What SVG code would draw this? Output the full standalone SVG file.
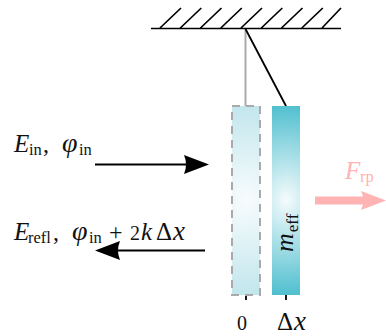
<svg xmlns="http://www.w3.org/2000/svg" width="386" height="336" viewBox="0 0 386 336">
<style>
text{font-family:"Liberation Serif",serif;fill:#111}
.m{font-size:25px;font-style:italic}
.p{font-size:28px;font-style:italic}
.s{font-size:16.500px}
.n{font-size:24px}
.d{font-size:25px}
.r{fill:#ffb3b3}
.h{stroke:#000;stroke-width:1.7;fill:none}
</style>
<defs>
<radialGradient id="g1" gradientUnits="userSpaceOnUse" cx="0" cy="0" r="1" gradientTransform="translate(246 200) scale(75 100)">
<stop offset="0" stop-color="#f8fcfd"/><stop offset="1" stop-color="#bfe5ec"/>
</radialGradient>
<radialGradient id="g2" gradientUnits="userSpaceOnUse" cx="0" cy="0" r="1" gradientTransform="translate(286 200) scale(75 100)">
<stop offset="0" stop-color="#f5fbfc"/><stop offset="1" stop-color="#48bccd"/>
</radialGradient>
</defs>
<g id="connectors">
<path class="h" d="M151 28.500H341M160 28L181 8M180.300 28L201.300 8M200.500 28L221.500 8M220.800 28L241.800 8M241 28L262 8M261.300 28L282.300 8M281.500 28L302.500 8M301.800 28L322.800 8M322 28L341 8"/>
<path d="M245.500 29V106" stroke="#aaa" stroke-width="2" fill="none"/>
<path d="M245.500 29L286 106" stroke="#000" stroke-width="1.800" fill="none"/>
<path d="M95 164.500H190" stroke="#000" stroke-width="1.800"/>
<path d="M209 164.500L184 155Q188 164.500 184 174Z" fill="#000"/>
<path d="M205 250.500H112" stroke="#000" stroke-width="1.800"/>
<path d="M95 250.500L120 241Q116 250.500 120 260Z" fill="#000"/>
<path d="M315 200.500H372" stroke="#ffb3b3" stroke-width="8"/>
<path d="M386 200.500L361 191Q366 200.500 361 210Z" fill="#ffb3b3"/>
<path d="M246 295V300M286 295V300" stroke="#000" stroke-width="1.800"/>
</g>
<g id="mirror-rest">
<rect x="232" y="106" width="28" height="189" fill="url(#g1)"/>
<rect x="232" y="106" width="28" height="189" fill="none" stroke="#aaa" stroke-width="2" stroke-dasharray="8 6"/>
</g>
<g id="mirror-moved">
<rect x="272" y="106" width="28" height="189" fill="url(#g2)"/>
<text transform="translate(293 252) rotate(-90)"><tspan class="m" style="font-size:26px">m</tspan><tspan class="s" dx="1" dy="5" style="font-size:17px">eff</tspan></text>
</g>
<g id="label-in"><text y="152"><tspan class="m" x="14">E</tspan><tspan class="s" x="29" dy="3">in</tspan><tspan class="n" x="43" dy="-3">,</tspan><tspan class="p" x="62">φ</tspan><tspan class="s" x="79" dy="3">in</tspan></text></g>
<g id="label-refl"><text y="240"><tspan class="m" x="14">E</tspan><tspan class="s" x="28" dy="3">refl</tspan><tspan class="n" x="53" dy="-3">,</tspan><tspan class="p" x="72">φ</tspan><tspan class="s" x="89" dy="3">in</tspan><tspan class="n" x="109" dy="-3">+</tspan><tspan class="n" x="130" style="font-size:20px">2</tspan><tspan class="m" x="141">k</tspan><tspan class="d" x="156">Δ</tspan><tspan class="m" x="173" style="font-size:27px">x</tspan></text></g>
<g id="label-force"><text y="179"><tspan class="m r" x="345" style="font-size:25px">F</tspan><tspan class="s r" x="360" dy="3">rp</tspan></text></g>
<g id="tick-0"><text class="n" x="242" y="330" text-anchor="middle" style="font-size:20px">0</text></g>
<g id="tick-dx"><text y="330"><tspan class="d" x="277">Δ</tspan><tspan class="m" x="294" style="font-size:27px">x</tspan></text></g>
</svg>
